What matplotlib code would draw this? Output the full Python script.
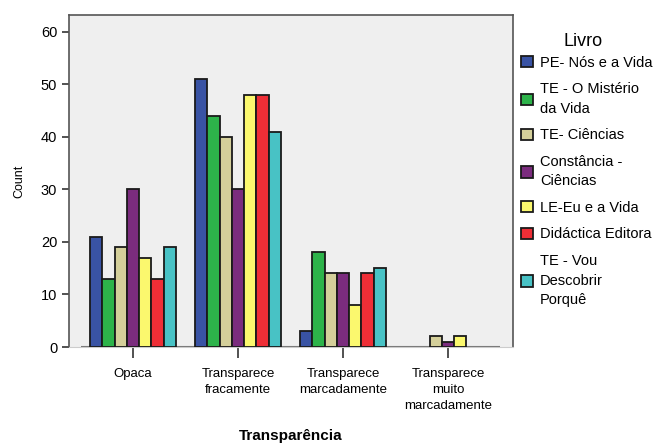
import numpy as np
import matplotlib.pyplot as plt

categories = ['Opaca', 'Transparece\nfracamente', 'Transparece\nmarcadamente',
              'Transparece\nmuito\nmarcadamente']
livros = ['PE- Nós e a Vida', 'TE - O Mistério\nda Vida', 'TE- Ciências',
          'Constância -\nCiências', 'LE-Eu e a Vida', 'Didáctica Editora',
          'TE - Vou\nDescobrir\nPorquê']
colors = ['#3953A4', '#2DB34A', '#D4CF9A', '#7B2C7E', '#FBF86E', '#EE2E36', '#48C2C5']

# counts per livro, one value per transparency category
pe_nos = [21, 51, 3, 0]
te_misterio = [13, 44, 18, 0]
te_ciencias = [19, 40, 14, 2]
constancia = [30, 30, 14, 1]
le_eu = [17, 48, 8, 2]
didactica = [13, 48, 14, 0]
te_vou = [19, 41, 15, 0]
series = [pe_nos, te_misterio, te_ciencias, constancia, le_eu, didactica, te_vou]

plt.rcParams['font.family'] = ['Liberation Sans', 'DejaVu Sans']

fig = plt.figure(figsize=(6.65, 4.43), dpi=100)
ax = fig.add_axes([0.1038, 0.2167, 0.6677, 0.7494])
ax.set_facecolor('#EFEFEF')

x = np.arange(len(categories))
w = 0.117
for i, (vals, c, lab) in enumerate(zip(series, colors, livros)):
    lw = [1.3 if v > 0 else 0 for v in vals]
    ax.bar(x + (i - 3) * w, vals, w, color=c, edgecolor='#1a1a1a',
           linewidth=lw, label=lab, zorder=3)

ax.hlines(0, -0.5, 3.5, color='#777777', linewidth=1.5, zorder=2)

ax.set_xlim(-0.61, 3.62)
ax.set_ylim(0, 63.2)
ax.set_yticks(range(0, 61, 10))
ax.set_xticks(x)
ax.set_xticklabels(categories, fontsize=9.5, linespacing=1.45)
ax.tick_params(axis='y', labelsize=10.5, length=5, width=1.2, color='#333333')
ax.tick_params(axis='x', length=8, width=1.2, color='#333333', pad=7)

for s in ['left', 'top', 'right']:
    ax.spines[s].set_color('#555555')
    ax.spines[s].set_linewidth(1.2)
ax.spines['bottom'].set_color('#cccccc')

ax.set_ylabel('Count', fontsize=9, labelpad=11)
ax.set_xlabel('Transparência', fontsize=11, fontweight='bold', labelpad=12)

# legend title drawn separately so the gap to the first entry stays small
ax.text(1.158, 0.92, 'Livro', transform=ax.transAxes, fontsize=13,
        ha='center', va='center')
leg = ax.legend(loc='upper left', bbox_to_anchor=(0.995, 0.908), frameon=False,
                fontsize=10.5, handlelength=0.8, handleheight=0.8,
                handletextpad=0.5, labelspacing=0.86, borderaxespad=0.3)
for t in leg.get_texts():
    t.set_linespacing(1.5)

fig.savefig('out.png', dpi=100)
